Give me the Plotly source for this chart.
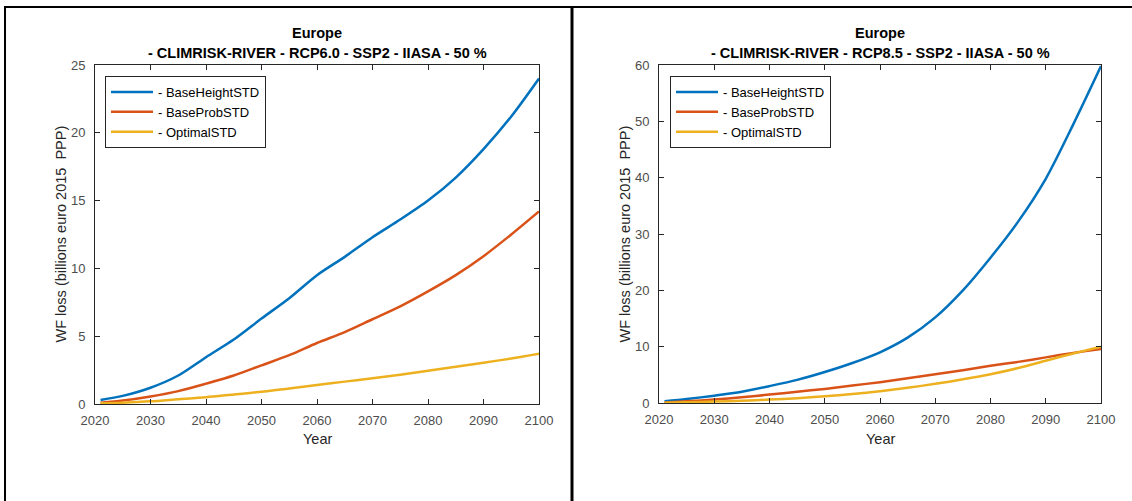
import plotly.graph_objects as go

W, H = 1132, 501

years = [2021, 2025, 2030, 2035, 2040, 2045, 2050, 2055, 2060,
         2065, 2070, 2075, 2080, 2085, 2090, 2095, 2100]

# RCP6.0 panel (billions euro 2015 PPP)
rcp60_base_height = [0.3, 0.6, 1.2, 2.1, 3.45, 4.75, 6.3, 7.8, 9.5,
                     10.85, 12.3, 13.6, 15.0, 16.7, 18.8, 21.2, 24.0]
rcp60_base_prob = [0.1, 0.25, 0.55, 0.95, 1.5, 2.1, 2.85, 3.6, 4.5,
                   5.3, 6.25, 7.2, 8.3, 9.5, 10.9, 12.5, 14.2]
rcp60_optimal = [0.05, 0.1, 0.2, 0.35, 0.5, 0.7, 0.9, 1.15, 1.4,
                 1.65, 1.9, 2.15, 2.45, 2.75, 3.05, 3.35, 3.7]

# RCP8.5 panel
rcp85_base_height = [0.3, 0.7, 1.3, 2.0, 3.0, 4.1, 5.5, 7.1, 9.0,
                     11.6, 15.2, 20.0, 25.8, 32.2, 39.8, 49.5, 59.8]
rcp85_base_prob = [0.1, 0.3, 0.6, 1.0, 1.5, 2.0, 2.5, 3.1, 3.7,
                   4.4, 5.1, 5.8, 6.6, 7.3, 8.1, 8.9, 9.6]
rcp85_optimal = [0.05, 0.12, 0.25, 0.4, 0.6, 0.85, 1.2, 1.6, 2.1,
                 2.7, 3.4, 4.2, 5.1, 6.2, 7.5, 8.8, 10.0]

series_names = ["- BaseHeightSTD", "- BaseProbSTD", "- OptimalSTD"]
colors = ["#0072BD", "#D95319", "#EDB120"]

titles = ["<b>Europe</b>", "<b>- CLIMRISK-RIVER - RCP6.0 - SSP2 - IIASA - 50 %</b>",
          "<b>- CLIMRISK-RIVER - RCP8.5 - SSP2 - IIASA - 50 %</b>"]
y_title = "WF loss (billions euro 2015 \u00a0PPP)"
x_title = "Year"

FONT = "Liberation Sans, Arial, sans-serif"
AX = "#262626"


def px_x(x):
    return x / W


def px_y(y):
    return 1 - y / H


fig = go.Figure()

panels = [
    (rcp60_base_height, rcp60_base_prob, rcp60_optimal, "x", "y", "legend"),
    (rcp85_base_height, rcp85_base_prob, rcp85_optimal, "x2", "y2", "legend2"),
]
for vals_a, vals_b, vals_c, xa, ya, lg in panels:
    for name, vals, col in zip(series_names, (vals_a, vals_b, vals_c), colors):
        fig.add_trace(go.Scatter(
            x=years, y=vals, name=name, mode="lines",
            line=dict(color=col, width=2.5, shape="spline", smoothing=0.8),
            xaxis=xa, yaxis=ya, legend=lg,
        ))

axis_common = dict(
    showline=True, linecolor=AX, linewidth=1, mirror="ticks",
    ticks="inside", ticklen=5, tickcolor=AX, tickwidth=1,
    showgrid=False, zeroline=False, automargin=False,
    tickfont=dict(family=FONT, size=13, color="#4d4d4d"),
)

xdom1 = [px_x(95), px_x(539)]
xdom2 = [px_x(659), px_x(1101)]
ydom1 = [px_y(404), px_y(65)]
ydom2 = [px_y(403), px_y(65)]

legend_common = dict(
    xanchor="left", yanchor="top", bgcolor="white", bordercolor=AX, borderwidth=1,
    font=dict(family=FONT, size=13, color="#000"), itemwidth=42, tracegroupgap=0,
)

fig.update_layout(
    template="none",
    width=W, height=H,
    margin=dict(l=0, r=0, t=0, b=0, pad=0, autoexpand=False),
    paper_bgcolor="white", plot_bgcolor="white",
    font=dict(family=FONT, color=AX),
    xaxis=dict(domain=xdom1, anchor="y", range=[2020, 2100], dtick=10,
               tick0=2020, ticklabelstandoff=4, **axis_common),
    yaxis=dict(domain=ydom1, anchor="x", range=[0, 25], dtick=5,
               ticklabelstandoff=6, **axis_common),
    xaxis2=dict(domain=xdom2, anchor="y2", range=[2020, 2100], dtick=10,
                tick0=2020, ticklabelstandoff=4, **axis_common),
    yaxis2=dict(domain=ydom2, anchor="x2", range=[0, 60], dtick=10,
                ticklabelstandoff=6, **axis_common),
    legend=dict(x=px_x(105), y=px_y(76), **legend_common),
    legend2=dict(x=px_x(670), y=px_y(76), **legend_common),
    showlegend=True,
)

annotations = []
for cx, sub in ((317, titles[1]), (880, titles[2])):
    annotations.append(dict(x=px_x(cx), y=px_y(33), text=titles[0],
                            font=dict(family=FONT, size=14.5, color="#000")))
    annotations.append(dict(x=px_x(cx), y=px_y(53), text=sub,
                            font=dict(family=FONT, size=14.5, color="#000")))
    annotations.append(dict(x=px_x(cx), y=px_y(439), text=x_title,
                            font=dict(family=FONT, size=14.5, color=AX)))
for cx in (60, 624):
    annotations.append(dict(x=px_x(cx), y=px_y(234.5), text=y_title, textangle=-90,
                            font=dict(family=FONT, size=14.5, color=AX)))
for a in annotations:
    a.update(xref="paper", yref="paper", showarrow=False,
             xanchor="center", yanchor="middle")
fig.update_layout(annotations=annotations)

# Panel frame lines
shapes = [
    dict(x0=px_x(5), x1=px_x(5), y0=0, y1=px_y(6), line=dict(color="black", width=2)),
    dict(x0=px_x(4), x1=1, y0=px_y(7), y1=px_y(7), line=dict(color="black", width=2)),
    dict(x0=px_x(572), x1=px_x(572), y0=0, y1=px_y(7), line=dict(color="black", width=3)),
]
for s in shapes:
    s.update(type="line", xref="paper", yref="paper")
fig.update_layout(shapes=shapes)

fig.write_html("out.html")
